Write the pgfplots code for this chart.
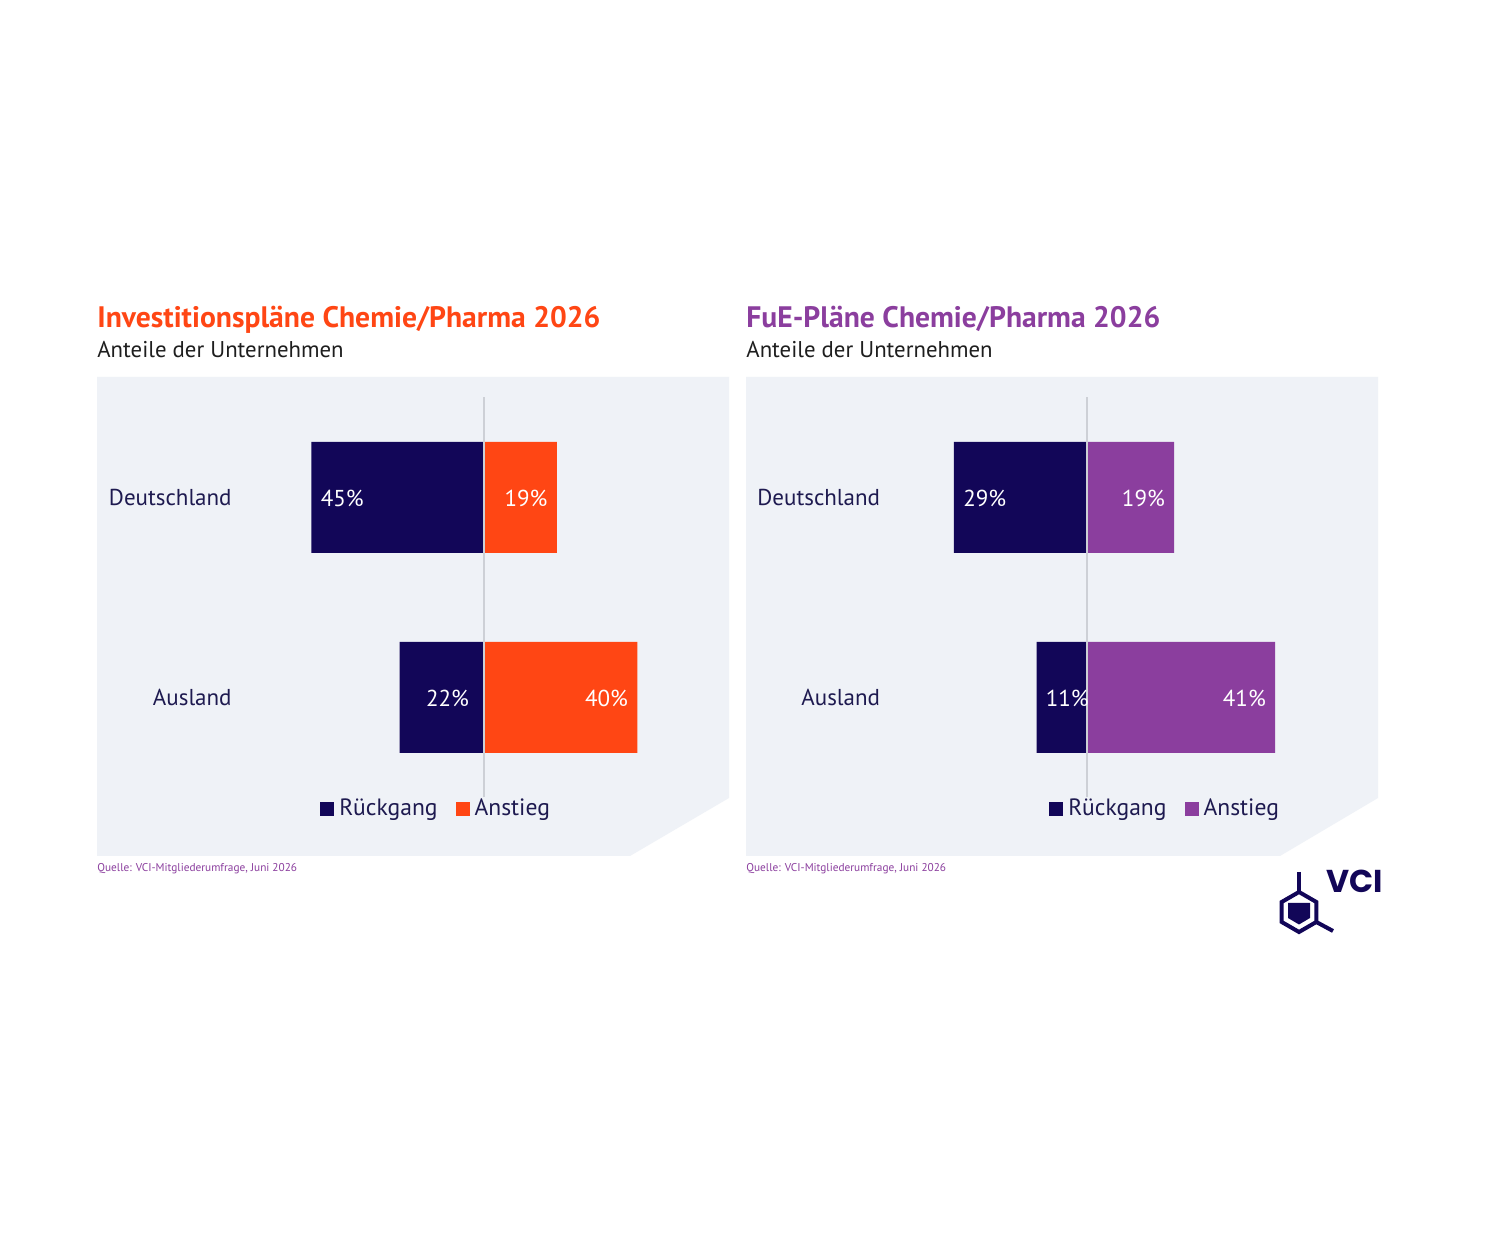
\documentclass[border=0pt]{standalone}
\usepackage{pgfplots}
\pgfplotsset{compat=1.18}
\usepackage{pgfplotstable}
\usepackage{fontspec}
\setmainfont{PT Sans}
\newfontfamily\logofont{Poppins}

\definecolor{navy}{RGB}{18,6,88}
\definecolor{vciorange}{RGB}{255,70,20}
\definecolor{vcipurple}{RGB}{139,62,158}
\definecolor{panelbg}{RGB}{239,242,247}
\definecolor{zeroline}{RGB}{205,208,214}
\definecolor{labelnavy}{RGB}{30,26,80}
\definecolor{subtext}{RGB}{30,30,30}

% Shares of companies: decline (rueck) and increase (anstieg), in percent.
% Column rs: horizontal offset of the decline label from the bar end (pt).
\pgfplotstableread{
pos rueck anstieg rs
1   45    19      4.5
0   22    40      13
}\investtab
\pgfplotstableread{
pos rueck anstieg rs
1   29    19      4.5
0   11    41      4.5
}\fuetab

\pgfplotsset{
  panel/.style={
    scale only axis, height=200pt,
    ymin=-0.5, ymax=1.5, clip=false,
    axis line style={draw=none}, major tick length=0pt,
    xtick=\empty, ytick={0,1}, yticklabels={Ausland,Deutschland},
    yticklabel style={font=\fontsize{11.5}{14}\selectfont, text=labelnavy,
      anchor=east, inner sep=0pt},
    /pgf/number format/assume math mode=true,
    legend columns=2,
    legend style={draw=none, fill=none, anchor=west, inner sep=0pt,
      font=\fontsize{11.8}{14}\selectfont, text=labelnavy,
      nodes={inner sep=0pt},
      /tikz/every odd column/.append style={column sep=2.5pt},
      /tikz/every even column/.append style={column sep=9pt}},
  },
  bars/.style={xbar, bar width=55.5pt, bar shift=0pt, draw=none,
    point meta=explicit,
    nodes near coords={\pgfmathprintnumber{\pgfplotspointmeta}\%},
    every node near coord/.append style={font=\fontsize{11.5}{14}\selectfont,
      text=white, inner sep=0pt, yshift=-0.5pt},
  },
  rueckbars/.style={bars, fill=navy,
    visualization depends on={\thisrow{rs} \as \rshift},
    nodes near coords align={anchor=west},
    every node near coord/.append style={xshift=\rshift pt},
    legend image code/.code={\fill[navy] (0pt,-3.5pt) rectangle (7pt,3.5pt);}},
  anstiegbars/.style={bars, fill=#1,
    nodes near coords align={anchor=east},
    every node near coord/.append style={xshift=-4.5pt},
    legend image code/.code={\fill[#1] (0pt,-3.5pt) rectangle (7pt,3.5pt);}},
}

\begin{document}
\begin{tikzpicture}[x=0.5pt,y=0.5pt]
  % canvas
  \fill[white] (0,0) rectangle (1487,1235);

  % panel backgrounds with cut lower right corner
  \fill[panelbg] (97,858) -- (729,858) -- (729,437) -- (630,379) -- (97,379) -- cycle;
  \fill[panelbg] (746,858) -- (1378,858) -- (1378,437) -- (1280,379) -- (746,379) -- cycle;

  % headings
  \node[anchor=base west, inner sep=0pt, text=vciorange,
        font=\fontsize{14.8}{18}\selectfont\bfseries] at (97,907)
        {Investitionspläne Chemie/Pharma 2026};
  \node[anchor=base west, inner sep=0pt, text=subtext,
        font=\fontsize{11.4}{15}\selectfont] at (97,877) {Anteile der Unternehmen};
  \node[anchor=base west, inner sep=0pt, text=vcipurple,
        font=\fontsize{14.8}{18}\selectfont\bfseries] at (746,907)
        {FuE-Pläne Chemie/Pharma 2026};
  \node[anchor=base west, inner sep=0pt, text=subtext,
        font=\fontsize{11.4}{15}\selectfont] at (746,877) {Anteile der Unternehmen};

  % sources
  \node[anchor=base west, inner sep=0pt, text=vcipurple,
        font=\fontsize{5.65}{7}\selectfont] at (97,363) {Quelle: VCI-Mitgliederumfrage, Juni 2026};
  \node[anchor=base west, inner sep=0pt, text=vcipurple,
        font=\fontsize{5.65}{7}\selectfont] at (746,363) {Quelle: VCI-Mitgliederumfrage, Juni 2026};

  % investment plans
  \begin{axis}[panel, at={(146.15pt,218.75pt)}, anchor=south west,
      width=191.67pt, xmin=-50, xmax=50,
      yticklabel style={xshift=-30.15pt},
      legend style={at={(axis description cs:0.0723,-0.02875)}}]
    \addplot[rueckbars] table[x expr=-\thisrow{rueck}, y=pos, meta=rueck] {\investtab};
    \addlegendentry{Rückgang}
    \addplot[anstiegbars=vciorange] table[x=anstieg, y=pos, meta=anstieg] {\investtab};
    \addlegendentry{Anstieg}
    \addplot[zeroline, line width=0.6pt, forget plot] coordinates {(0,-0.5) (0,1.5)};
  \end{axis}

  % R&D plans
  \begin{axis}[panel, at={(440.225pt,218.75pt)}, anchor=south west,
      width=206.55pt, xmin=-45, xmax=45,
      legend style={at={(axis description cs:0.408,-0.02875)}}]
    \addplot[rueckbars] table[x expr=-\thisrow{rueck}, y=pos, meta=rueck] {\fuetab};
    \addlegendentry{Rückgang}
    \addplot[anstiegbars=vcipurple] table[x=anstieg, y=pos, meta=anstieg] {\fuetab};
    \addlegendentry{Anstieg}
    \addplot[zeroline, line width=0.6pt, forget plot] coordinates {(0,-0.5) (0,1.5)};
  \end{axis}

  % VCI logo
  \begin{scope}[navy, line width=2pt, line join=miter]
    \draw (1299,363) -- (1299,343);
    \draw (1299,343) -- (1316.3,333) -- (1316.3,313) -- (1299,303)
          -- (1281.7,313) -- (1281.7,333) -- cycle;
    \draw (1316.3,313) -- (1333,304);
    \fill (1288,332) -- (1310,332) -- (1310,317) -- (1299,310.5) -- (1288,317) -- cycle;
  \end{scope}
  \node[anchor=base west, inner sep=0pt, text=navy,
        font=\logofont\bfseries\fontsize{15.8}{18}\selectfont] at (1326,342) {VCI};
\end{tikzpicture}
\end{document}
